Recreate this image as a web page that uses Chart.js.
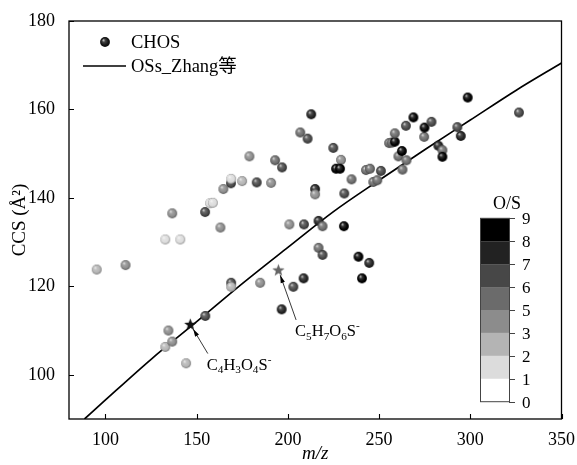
<!DOCTYPE html>
<html>
<head>
<meta charset="utf-8">
<script src="https://cdn.jsdelivr.net/npm/chart.js@4.4.1/dist/chart.umd.min.js"></script>
<style>
  html, body { margin: 0; padding: 0; background: #fff; }
  #wrap { width: 577px; height: 465px; }
</style>
</head>
<body>
<div id="wrap"><canvas id="ccsChart" width="577" height="465"></canvas></div>
<script>
// CHOS compounds: m/z, CCS (Å²) and O/S ratio
const chosMz = [95.2, 111, 132.8, 141, 136.6, 132.8, 134.5, 136.6, 144.2, 154.7,
  154.6, 157.3, 158.9, 163, 164.6, 168.8, 168.9, 168.9, 168.9, 174.9,
  178.9, 182.9, 184.8, 190.8, 193, 196.8, 196.6, 200.8, 203, 206.8,
  208.8, 208.6, 210.8, 212.8, 214.9, 214.9, 216.8, 219, 216.8, 219,
  224.9, 229.1, 226.4, 228.6, 230.9, 230.7, 234.9, 238.7, 240.6, 242.8,
  245, 244.6, 246.8, 249, 251, 255.5, 257, 258.6, 258.6, 260.6,
  262.5, 262.8, 264.7, 265, 268.8, 274.7, 274.9, 278.7, 282.5, 284.7,
  284.7, 292.9, 294.8, 298.6, 326.7];
const chosCcs = [123.8, 124.8, 130.6, 130.6, 136.5, 106.3, 110.0, 107.5, 102.6, 113.3,
  136.8, 138.8, 138.9, 133.3, 142.0, 143.3, 144.3, 120.8, 119.9, 143.8,
  149.4, 143.5, 120.8, 143.4, 148.5, 146.9, 114.8, 134.0, 119.9, 154.8,
  134.0, 121.8, 153.4, 158.9, 142.0, 140.8, 134.8, 133.6, 128.7, 127.1,
  151.3, 148.6, 146.6, 146.6, 141.0, 133.6, 144.2, 126.7, 121.8, 146.3,
  146.6, 125.3, 143.6, 144.0, 146.1, 152.4, 152.5, 152.7, 154.6, 149.4,
  150.6, 146.4, 156.3, 148.5, 158.2, 153.8, 155.9, 157.2, 151.8, 150.8,
  149.3, 156.0, 154.0, 162.7, 159.3];
const chosOS = [2.5, 4, 1.5, 1.5, 3, 2.5, 4, 4, 2.5, 6.5,
  6.5, 1.5, 1.5, 4, 4, 6.5, 1.5, 6.5, 2, 2.5,
  4, 6.5, 4, 4, 5.5, 6.5, 7.5, 3, 6.5, 5.5,
  6.5, 7.5, 6.5, 7.5, 7.5, 3, 7.5, 5.5, 5.5, 6.5,
  6.5, 4, 8.5, 8.5, 6.5, 8.5, 5.5, 8.5, 8.5, 5.5,
  5.5, 7.5, 5.5, 5.5, 6.5, 5.5, 5.5, 8.5, 5.5, 5.5,
  8.5, 5.5, 6.5, 5.5, 8.5, 5.5, 8.5, 6.5, 7.5, 5.5,
  8.5, 6.5, 7.5, 8.5, 6.5];

// OSs fit line (Zhang et al.)
const lineMz = [88.5, 100, 125, 150, 175, 200, 225, 250, 275, 300, 325, 350];
const lineCcs = [90, 94.3, 103.5, 112.0, 120.6, 128.8, 136.9, 144.0, 150.9, 157.6, 164.3, 170.5];

// marked OS standards
const starNames = [["C", "4", "H", "3", "O", "4", "S", "-"], ["C", "5", "H", "7", "O", "6", "S", "-"]];
const starMz = [146.5, 194.8];
const starCcs = [111.4, 123.7];
const starGray = [17, 102];
const arrowTailMz = [156.1, 204.5];
const arrowTailCcs = [104.8, 112.4];

// colour bar levels
const osLevels = [0, 1, 2, 3, 5, 6, 7, 8, 9];
const osGrays = [255, 220, 180, 140, 107, 71, 34, 0];

const xTicks = [100, 150, 200, 250, 300, 350];
const yTicks = [100, 120, 140, 160, 180];

const SERIF = '"Liberation Serif", "Noto Sans CJK SC", serif';

function grayOf(os) {
  for (let i = 0; i < osGrays.length; i++) {
    if (os < osLevels[i + 1]) return osGrays[i];
  }
  return osGrays[osGrays.length - 1];
}

function mix(a, b, t) { return Math.round(a + (b - a) * t); }
function rgb(v) { return `rgb(${v},${v},${v})`; }

const sphereCache = {};
function sphere(gray, r) {
  const key = gray + "_" + r;
  if (sphereCache[key]) return sphereCache[key];
  const size = Math.ceil(r * 2) + 2;
  const c = document.createElement("canvas");
  c.width = size; c.height = size;
  const g = c.getContext("2d");
  const cx = size / 2, cy = size / 2;
  const grad = g.createRadialGradient(cx - r * 0.35, cy - r * 0.4, r * 0.05, cx, cy, r);
  grad.addColorStop(0, rgb(mix(gray, 255, 0.75)));
  grad.addColorStop(0.3, rgb(mix(gray, 255, 0.2)));
  grad.addColorStop(0.75, rgb(gray));
  grad.addColorStop(1, rgb(mix(gray, 0, 0.35)));
  g.fillStyle = grad;
  g.beginPath();
  g.arc(cx, cy, r, 0, Math.PI * 2);
  g.fill();
  sphereCache[key] = c;
  return c;
}

function star(gray, ro, ri) {
  const size = Math.ceil(ro * 2) + 2;
  const c = document.createElement("canvas");
  c.width = size; c.height = size;
  const g = c.getContext("2d");
  g.translate(size / 2, size / 2 + 0.5);
  g.beginPath();
  for (let i = 0; i < 10; i++) {
    const a = -Math.PI / 2 + i * Math.PI / 5;
    const r = i % 2 === 0 ? ro : ri;
    g.lineTo(Math.cos(a) * r, Math.sin(a) * r);
  }
  g.closePath();
  g.fillStyle = rgb(gray);
  g.fill();
  return c;
}

function drawFormula(ctx, parts, x, y, size) {
  // parts alternate: normal, subscript; last one is superscript
  let cx = x;
  parts.forEach((p, i) => {
    let fs = size, dy = 0;
    if (i === parts.length - 1) { fs = size * 0.68; dy = -size * 0.42; }
    else if (i % 2 === 1) { fs = size * 0.68; dy = size * 0.22; }
    ctx.font = `${fs}px ${SERIF}`;
    ctx.fillText(p, cx, y + dy);
    cx += ctx.measureText(p).width;
  });
}

const decorPlugin = {
  id: "decor",
  afterDraw(chart) {
    const { ctx, chartArea: { left, top, right, bottom }, scales: { x, y } } = chart;
    ctx.save();
    // frame
    ctx.strokeStyle = "#000";
    ctx.lineWidth = 1.3;
    ctx.strokeRect(left, top, right - left, bottom - top);
    // inward ticks
    ctx.lineWidth = 1.1;
    ctx.beginPath();
    xTicks.forEach(v => {
      const px = Math.round(x.getPixelForValue(v)) + 0.5;
      ctx.moveTo(px, bottom); ctx.lineTo(px, bottom - 5);
    });
    yTicks.forEach(v => {
      const py = Math.round(y.getPixelForValue(v)) + 0.5;
      ctx.moveTo(left, py); ctx.lineTo(left + 5, py);
    });
    ctx.stroke();

    // axis titles
    ctx.fillStyle = "#000";
    ctx.textAlign = "center";
    ctx.textBaseline = "middle";
    ctx.font = `italic 19px ${SERIF}`;
    ctx.fillText("m/z", (left + right) / 2, 454);
    ctx.save();
    ctx.translate(20, (top + bottom) / 2);
    ctx.rotate(-Math.PI / 2);
    ctx.font = `19px ${SERIF}`;
    ctx.fillText("CCS (Å²)", 0, 0);
    ctx.restore();

    // legend
    ctx.drawImage(sphere(20, 4.9), 105 - 6, 42 - 6);
    ctx.textAlign = "left";
    ctx.font = `18.5px ${SERIF}`;
    ctx.fillText("CHOS", 131, 43);
    ctx.beginPath();
    ctx.lineWidth = 1.6;
    ctx.moveTo(83, 66); ctx.lineTo(126, 66);
    ctx.stroke();
    ctx.fillText("OSs_Zhang等", 131, 67);

    // colour bar
    const bx0 = 480, bx1 = 509, byTop = 218.3, byBot = 401.7;
    const seg = (byBot - byTop) / osGrays.length;
    osGrays.forEach((g, i) => {
      ctx.fillStyle = rgb(g);
      ctx.fillRect(bx0, byBot - (i + 1) * seg, bx1 - bx0, seg);
    });
    ctx.strokeStyle = "#444";
    ctx.lineWidth = 1;
    ctx.strokeRect(bx0 + 0.5, byTop, bx1 - bx0, byBot - byTop);
    ctx.beginPath();
    ctx.font = `17px ${SERIF}`;
    ctx.fillStyle = "#000";
    osLevels.forEach((v, i) => {
      const py = Math.round(byBot - i * seg) + 0.5;
      ctx.moveTo(bx1, py); ctx.lineTo(bx1 + 6, py);
      ctx.fillText(String(v), 522, py + 1);
    });
    ctx.stroke();
    ctx.textAlign = "center";
    ctx.font = `18px ${SERIF}`;
    ctx.fillText("O/S", 507, 204);

    // arrows + formula labels
    ctx.textAlign = "left";
    ctx.textBaseline = "alphabetic";
    starMz.forEach((m, i) => {
      const sx = x.getPixelForValue(m), sy = y.getPixelForValue(starCcs[i]);
      const tx = x.getPixelForValue(arrowTailMz[i]), ty = y.getPixelForValue(arrowTailCcs[i]);
      const ang = Math.atan2(sy - ty, sx - tx);
      const hx = sx - Math.cos(ang) * 5.5, hy = sy - Math.sin(ang) * 5.5;
      ctx.strokeStyle = "#222";
      ctx.lineWidth = 0.9;
      ctx.beginPath();
      ctx.moveTo(tx, ty); ctx.lineTo(hx, hy);
      ctx.stroke();
      ctx.fillStyle = "#000";
      ctx.beginPath();
      ctx.moveTo(hx, hy);
      ctx.lineTo(hx - Math.cos(ang - 0.28) * 8, hy - Math.sin(ang - 0.28) * 8);
      ctx.lineTo(hx - Math.cos(ang + 0.28) * 8, hy - Math.sin(ang + 0.28) * 8);
      ctx.closePath();
      ctx.fill();
      drawFormula(ctx, starNames[i], tx - 1, ty + 16, 16.5);
    });
    ctx.restore();
  }
};

function pinTicks(list) {
  return scale => { scale.ticks = list.map(v => ({ value: v })); };
}

document.addEventListener("DOMContentLoaded", () => {
  const ctx = document.getElementById("ccsChart").getContext("2d");
  const tickFont = { family: SERIF, size: 18 };
  new Chart(ctx, {
    type: "scatter",
    data: {
      datasets: [
        {
          label: "OS standards",
          data: starMz.map((m, i) => ({ x: m, y: starCcs[i] })),
          pointStyle: c => star(starGray[c.dataIndex], 6.5, 2.7),
          pointRadius: 6,
          order: 0
        },
        {
          label: "CHOS",
          data: chosMz.map((m, i) => ({ x: m, y: chosCcs[i] })),
          pointStyle: c => sphere(grayOf(chosOS[c.dataIndex]), 4.9),
          pointRadius: 5,
          order: 1
        },
        {
          type: "line",
          label: "OSs_Zhang等",
          data: lineMz.map((m, i) => ({ x: m, y: lineCcs[i] })),
          borderColor: "#000",
          borderWidth: 1.7,
          pointRadius: 0,
          fill: false,
          cubicInterpolationMode: "monotone",
          order: 2
        }
      ]
    },
    options: {
      responsive: false,
      animation: false,
      layout: { padding: { top: 21, right: 14.5, left: 0, bottom: 0 } },
      scales: {
        x: {
          type: "linear",
          min: 80, max: 350,
          afterBuildTicks: pinTicks(xTicks),
          afterFit: s => { s.height = 46; },
          grid: { display: false },
          border: { display: false },
          ticks: { font: tickFont, color: "#000", padding: 2, maxRotation: 0 }
        },
        y: {
          type: "linear",
          min: 90, max: 180,
          afterBuildTicks: pinTicks(yTicks),
          afterFit: s => { s.width = 69; },
          grid: { display: false },
          border: { display: false },
          ticks: { font: tickFont, color: "#000", padding: 6 }
        }
      },
      plugins: { legend: { display: false }, tooltip: { enabled: false } }
    },
    plugins: [decorPlugin]
  });
});
</script>
</body>
</html>
